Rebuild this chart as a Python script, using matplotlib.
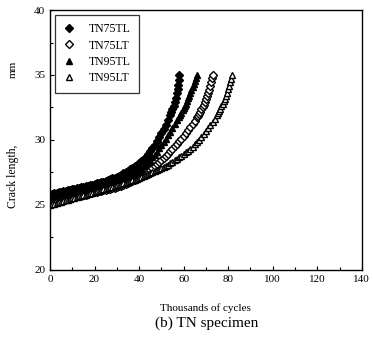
import matplotlib
matplotlib.use("Agg")
import matplotlib.pyplot as plt
from matplotlib.ticker import MultipleLocator

plt.rcParams['font.family'] = ['Liberation Serif', 'DejaVu Serif']

# TN75TL (filled diamonds)
n_75tl = [0, 1, 2, 3, 4, 5, 6, 7, 8, 9, 10, 11, 12, 13, 14, 15, 16, 17, 18, 19, 20,
          21, 22, 23, 24, 25, 26, 27, 28, 29, 30, 31, 32, 33, 34, 35, 36, 37, 38, 39, 40,
          41, 42, 43, 44, 45, 46, 47, 48, 49, 50, 51, 52, 53, 54, 54.5, 55, 55.5, 56,
          56.5, 57, 57.3, 57.6, 57.8, 58]
a_75tl = [25.80, 25.84, 25.88, 25.92, 25.96, 26.00, 26.04, 26.08, 26.12, 26.16, 26.20,
          26.24, 26.28, 26.32, 26.36, 26.40, 26.44, 26.48, 26.52, 26.56, 26.60,
          26.65, 26.70, 26.75, 26.80, 26.86, 26.92, 26.98, 27.04, 27.11, 27.18,
          27.26, 27.34, 27.43, 27.52, 27.63, 27.74, 27.85, 27.96, 28.08, 28.22,
          28.37, 28.52, 28.70, 28.90, 29.12, 29.36, 29.62, 29.90, 30.20, 30.50,
          30.82, 31.16, 31.52, 31.92, 32.14, 32.38, 32.63, 32.90, 33.22, 33.60,
          33.90, 34.25, 34.60, 35.00]

# TN75LT (open diamonds)
n_75lt = [0, 1, 2, 3, 4, 5, 6, 7, 8, 9, 10, 11, 12, 13, 14, 15, 16, 17, 18, 19, 20,
          21, 22, 23, 24, 25, 26, 27, 28, 29, 30, 31, 32, 33, 34, 35, 36, 37, 38, 39, 40,
          41, 42, 43, 44, 45, 46, 47, 48, 49, 50, 51, 52, 53, 54, 55, 56, 57, 58, 59, 60,
          61, 62, 63, 64, 65, 66, 66.5, 67, 67.5, 68, 68.5, 69, 69.5, 70, 70.5, 71, 71.5,
          72, 72.4, 72.8, 73]
a_75lt = [25.20, 25.24, 25.27, 25.31, 25.35, 25.38, 25.42, 25.46, 25.50, 25.53, 25.57,
          25.61, 25.65, 25.68, 25.72, 25.76, 25.80, 25.84, 25.88, 25.92, 25.96,
          26.00, 26.04, 26.08, 26.12, 26.16, 26.21, 26.25, 26.30, 26.34, 26.38,
          26.43, 26.48, 26.54, 26.60, 26.66, 26.73, 26.81, 26.89, 26.98, 27.07,
          27.18, 27.29, 27.41, 27.54, 27.68, 27.82, 27.97, 28.12, 28.28, 28.44,
          28.60, 28.77, 28.94, 29.12, 29.30, 29.50, 29.70, 29.90, 30.10, 30.31,
          30.52, 30.75, 30.98, 31.22, 31.47, 31.73, 31.87, 32.02, 32.18, 32.35,
          32.53, 32.72, 32.92, 33.13, 33.36, 33.60, 33.86, 34.15, 34.45, 34.75, 35.00]

# TN95TL (filled triangles)
n_95tl = [0, 1, 2, 3, 4, 5, 6, 7, 8, 9, 10, 11, 12, 13, 14, 15, 16, 17, 18, 19, 20,
          21, 22, 23, 24, 25, 26, 27, 28, 29, 30, 31, 32, 33, 34, 35, 36, 37, 38, 39, 40,
          41, 42, 43, 44, 45, 46, 47, 48, 49, 50, 51, 52, 53, 54, 55, 56, 57, 58, 58.5,
          59, 59.5, 60, 60.5, 61, 61.5, 62, 62.5, 63, 63.5, 64, 64.5, 65, 65.5, 66]
a_95tl = [25.60, 25.64, 25.68, 25.72, 25.76, 25.80, 25.84, 25.88, 25.92, 25.96, 26.00,
          26.04, 26.08, 26.12, 26.16, 26.20, 26.24, 26.29, 26.33, 26.37, 26.42,
          26.46, 26.51, 26.55, 26.60, 26.65, 26.70, 26.75, 26.81, 26.86, 26.92,
          26.98, 27.05, 27.11, 27.18, 27.26, 27.35, 27.45, 27.55, 27.65, 27.76,
          27.88, 28.00, 28.15, 28.30, 28.47, 28.65, 28.87, 29.10, 29.35, 29.60,
          29.85, 30.10, 30.35, 30.60, 30.90, 31.20, 31.50, 31.80, 31.95, 32.10,
          32.27, 32.45, 32.62, 32.80, 33.00, 33.20, 33.40, 33.60, 33.82, 34.05,
          34.27, 34.50, 34.75, 35.00]

# TN95LT (open triangles)
n_95lt = [0, 1, 2, 3, 4, 5, 6, 7, 8, 9, 10, 11, 12, 13, 14, 15, 16, 17, 18, 19, 20,
          21, 22, 23, 24, 25, 26, 27, 28, 29, 30, 31, 32, 33, 34, 35, 36, 37, 38, 39, 40,
          41, 42, 43, 44, 45, 46, 47, 48, 49, 50, 51, 52, 53, 54, 55, 56, 57, 58, 59, 60,
          61, 62, 63, 64, 65, 66, 67, 68, 69, 70, 71, 72, 73, 74, 75, 75.5, 76, 76.5,
          77, 77.5, 78, 78.5, 79, 79.5, 80, 80.5, 81, 81.4, 81.7]
a_95lt = [25.00, 25.05, 25.10, 25.15, 25.20, 25.25, 25.30, 25.35, 25.40, 25.45, 25.50,
          25.55, 25.60, 25.65, 25.70, 25.75, 25.80, 25.85, 25.90, 25.95, 26.00,
          26.05, 26.10, 26.15, 26.20, 26.25, 26.30, 26.35, 26.40, 26.45, 26.50,
          26.55, 26.60, 26.65, 26.71, 26.77, 26.83, 26.89, 26.95, 27.01, 27.08,
          27.15, 27.22, 27.29, 27.36, 27.43, 27.51, 27.59, 27.67, 27.75, 27.84,
          27.93, 28.02, 28.11, 28.21, 28.31, 28.42, 28.53, 28.65, 28.77, 28.90,
          29.04, 29.18, 29.33, 29.49, 29.66, 29.84, 30.03, 30.23, 30.44, 30.66,
          30.89, 31.13, 31.38, 31.65, 31.93, 32.08, 32.24, 32.41, 32.59, 32.78,
          32.98, 33.19, 33.41, 33.64, 33.89, 34.16, 34.45, 34.72, 35.00]

fig = plt.figure(figsize=(3.73, 3.46), dpi=100)
ax = fig.add_axes([0.134, 0.22, 0.836, 0.751])

ax.plot(n_75tl, a_75tl, 'D', ms=4.0, color='black', label='TN75TL')
ax.plot(n_75lt, a_75lt, 'D', ms=4.0, mfc='white', mec='black', mew=1.0, label='TN75LT')
ax.plot(n_95tl, a_95tl, '^', ms=4.8, color='black', label='TN95TL')
ax.plot(n_95lt, a_95lt, '^', ms=4.8, mfc='white', mec='black', mew=1.0, label='TN95LT')

ax.set_xlim(0, 140)
ax.set_ylim(20, 40)
ax.xaxis.set_major_locator(MultipleLocator(20))
ax.xaxis.set_minor_locator(MultipleLocator(10))
ax.yaxis.set_major_locator(MultipleLocator(5))
ax.yaxis.set_minor_locator(MultipleLocator(2.5))
ax.tick_params(which='both', direction='in', labelsize=8, width=0.8)
ax.tick_params(which='major', length=3)
ax.tick_params(which='minor', length=2)
for sp in ax.spines.values():
    sp.set_linewidth(1.0)

leg = ax.legend(loc='upper left', fontsize=8.5, frameon=True, fancybox=False,
                edgecolor='black', borderpad=0.7, handletextpad=1.2, labelspacing=0.38,
                borderaxespad=0.4, handlelength=1.0)
leg.get_frame().set_linewidth(0.9)

fig.text(0.035, 0.49, 'Crack length,', rotation=90, ha='center', va='center', fontsize=8.5)
fig.text(0.035, 0.80, 'mm', rotation=90, ha='center', va='center', fontsize=8)
fig.text(0.55, 0.11, 'Thousands of cycles', ha='center', va='center', fontsize=8)
fig.text(0.555, 0.065, '(b) TN specimen', ha='center', va='center', fontsize=11)

fig.savefig('out.png', dpi=100)
